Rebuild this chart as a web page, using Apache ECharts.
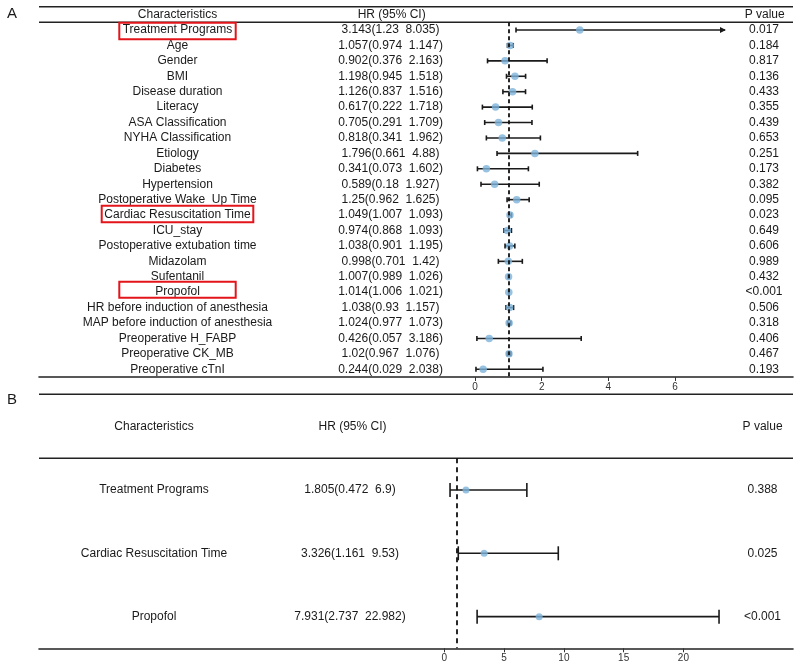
<!DOCTYPE html>
<html><head><meta charset="utf-8">
<script src="https://cdn.jsdelivr.net/npm/echarts@6/dist/echarts.min.js"></script>
<style>html,body{margin:0;padding:0;background:#fff}#c{width:800px;height:668px}</style>
</head><body><div id="c"></div>
<script>
// ---------- Panel A data ----------
const headers = ["Characteristics", "HR (95% CI)", "P value"];
const charA = ["Treatment Programs","Age","Gender","BMI","Disease duration","Literacy","ASA Classification","NYHA Classification","Etiology","Diabetes","Hypertension","Postoperative Wake_Up Time","Cardiac Resuscitation Time","ICU_stay","Postoperative extubation time","Midazolam","Sufentanil","Propofol","HR before induction of anesthesia","MAP before induction of anesthesia","Preoperative H_FABP","Preoperative CK_MB","Preoperative cTnI"];
const hrA  = [3.143,1.057,0.902,1.198,1.126,0.617,0.705,0.818,1.796,0.341,0.589,1.25,1.049,0.974,1.038,0.998,1.007,1.014,1.038,1.024,0.426,1.02,0.244];
const lowA = [1.23,0.974,0.376,0.945,0.837,0.222,0.291,0.341,0.661,0.073,0.18,0.962,1.007,0.868,0.901,0.701,0.989,1.006,0.93,0.977,0.057,0.967,0.029];
const upA  = [8.035,1.147,2.163,1.518,1.516,1.718,1.709,1.962,4.88,1.602,1.927,1.625,1.093,1.093,1.195,1.42,1.026,1.021,1.157,1.073,3.186,1.076,2.038];
const pA   = ["0.017","0.184","0.817","0.136","0.433","0.355","0.439","0.653","0.251","0.173","0.382","0.095","0.023","0.649","0.606","0.989","0.432","<0.001","0.506","0.318","0.406","0.467","0.193"];
const ticksA = [0, 2, 4, 6];

// ---------- Panel B data ----------
const charB = ["Treatment Programs","Cardiac Resuscitation Time","Propofol"];
const hrB  = [1.805,3.326,7.931];
const lowB = [0.472,1.161,2.737];
const upB  = [6.9,9.53,22.982];
const pB   = ["0.388","0.025","<0.001"];
const ticksB = [0, 5, 10, 15, 20];

const refValue = 1;

// ---------- build ----------
const FONT = '"Liberation Sans", Arial, Helvetica, sans-serif';
const TXT = '#1a1a1a';
const hrTextA = charA.map((_, i) => `${hrA[i]}(${lowA[i]}  ${upA[i]})`);
const hrTextB = charB.map((_, i) => `${hrB[i]}(${lowB[i]}  ${upB[i]})`);

function textAxis(grid, data, margin) {
  return {
    type: 'category', gridIndex: grid, data: data, inverse: true, position: 'left', offset: 0,
    axisLine: { show: false, onZero: false }, axisTick: { show: false }, splitLine: { show: false },
    axisLabel: { show: true, inside: true, margin: margin, align: 'center', interval: 0,
      fontSize: 12, color: TXT, fontFamily: FONT }
  };
}
function valueAxis(grid, min, max, ticks) {
  return {
    type: 'value', gridIndex: grid, min: min, max: max, position: 'bottom',
    splitLine: { show: false },
    axisLine: { show: true, onZero: false, lineStyle: { color: '#222', width: 1.6 } },
    axisTick: { show: true, customValues: ticks, length: 4, lineStyle: { color: '#333', width: 1 } },
    axisLabel: { show: true, customValues: ticks, fontSize: 10, color: '#333', margin: 5, fontFamily: FONT }
  };
}
function makeBars(capHalf, lineW, clipMax) {
  return function (params, api) {
    const yi = api.value(0), lo = api.value(1), hi = api.value(2);
    const clipped = clipMax != null && hi > clipMax;
    const a = api.coord([lo, yi]);
    const b = api.coord([clipped ? clipMax : hi, yi]);
    const st = { stroke: TXT, lineWidth: lineW };
    const ch = [
      { type: 'line', shape: { x1: a[0], y1: a[1], x2: b[0], y2: b[1] }, style: st },
      { type: 'line', shape: { x1: a[0], y1: a[1] - capHalf, x2: a[0], y2: a[1] + capHalf }, style: st }
    ];
    if (clipped) {
      ch.push({ type: 'polygon', shape: { points: [[b[0] + 1, b[1]], [b[0] - 5, b[1] - 3], [b[0] - 5, b[1] + 3]] }, style: { fill: TXT } });
    } else {
      ch.push({ type: 'line', shape: { x1: b[0], y1: b[1] - capHalf, x2: b[0], y2: b[1] + capHalf }, style: st });
    }
    return { type: 'group', children: ch };
  };
}
function refLine(dash, w) {
  return { silent: true, symbol: ['none', 'none'], label: { show: false },
    lineStyle: { type: dash, color: '#111', width: w }, data: [{ xAxis: refValue }], animation: false };
}
function txt(t, x, y, size) {
  return { type: 'text', x: x, y: y, silent: true,
    style: { text: t, fontSize: size || 12, fontFamily: FONT, fill: TXT, align: 'center', verticalAlign: 'middle' } };
}
function hline(y, x1, x2) {
  return { type: 'line', silent: true, shape: { x1: x1, y1: y, x2: x2, y2: y }, style: { stroke: '#222', lineWidth: 1.6 } };
}
function redBox(x, y, w, h) {
  return { type: 'rect', silent: true, z: 100, shape: { x: x, y: y, width: w, height: h }, style: { fill: 'none', stroke: '#e3151b', lineWidth: 2 } };
}

const PT = '#7db3d9';
const L = 39, R = 793;
const option = {
  animation: false,
  backgroundColor: '#fff',
  grid: [
    { left: L, right: 800 - R, top: 22.3, height: 354.7, outerBoundsMode: 'none', containLabel: false },
    { left: L, right: 800 - R, top: 458.3, height: 190, outerBoundsMode: 'none', containLabel: false }
  ],
  xAxis: [
    valueAxis(0, (L - 475) / 33.333, (R - 475) / 33.333, ticksA),
    valueAxis(1, (L - 444.4) / 11.95, (R - 444.4) / 11.95, ticksB)
  ],
  yAxis: [
    textAxis(0, charA, 177.5 - L),
    textAxis(0, hrTextA, 390.5 - L),
    textAxis(0, pA, 764 - L),
    textAxis(1, charB, 154 - L),
    textAxis(1, hrTextB, 350 - L),
    textAxis(1, pB, 762.5 - L)
  ],
  series: [
    { type: 'custom', xAxisIndex: 0, yAxisIndex: 0, z: 2, clip: false,
      renderItem: makeBars(2.5, 1.6, 7.5),
      encode: { y: 0, x: [1, 2] },
      data: charA.map((_, i) => [i, lowA[i], upA[i]]),
      markLine: refLine([4, 3], 1.8) },
    { type: 'scatter', xAxisIndex: 0, yAxisIndex: 0, z: 3, symbol: 'circle', symbolSize: 7.5,
      itemStyle: { color: PT }, data: hrA.map((v, i) => [v, i]) },
    { type: 'custom', xAxisIndex: 1, yAxisIndex: 3, z: 2, clip: false,
      renderItem: makeBars(7, 1.6, null),
      encode: { y: 0, x: [1, 2] },
      data: charB.map((_, i) => [i, lowB[i], upB[i]]),
      markLine: refLine([5, 4], 1.8) },
    { type: 'scatter', xAxisIndex: 1, yAxisIndex: 3, z: 3, symbol: 'circle', symbolSize: 7,
      itemStyle: { color: PT }, data: hrB.map((v, i) => [v, i]) }
  ],
  graphic: [
    txt('A', 12, 14, 15), txt('B', 12, 400, 15),
    hline(6.7, L, R), hline(22.3, L, R), hline(394.3, L, R), hline(458.3, L, R),
    txt(headers[0], 177.5, 14.7), txt(headers[1], 391.7, 14.7), txt(headers[2], 764.7, 14.7),
    txt(headers[0], 154, 426.7), txt(headers[1], 352.5, 426.7), txt(headers[2], 762.6, 426.7),
    redBox(119.3, 22.7, 116.4, 16.6),
    redBox(101.7, 205.7, 151.6, 16.6),
    redBox(119.3, 281.7, 116.4, 16)
  ]
};
const chart = echarts.init(document.getElementById('c'), null, { renderer: 'canvas' });
chart.setOption(option);
</script>
</body></html>
